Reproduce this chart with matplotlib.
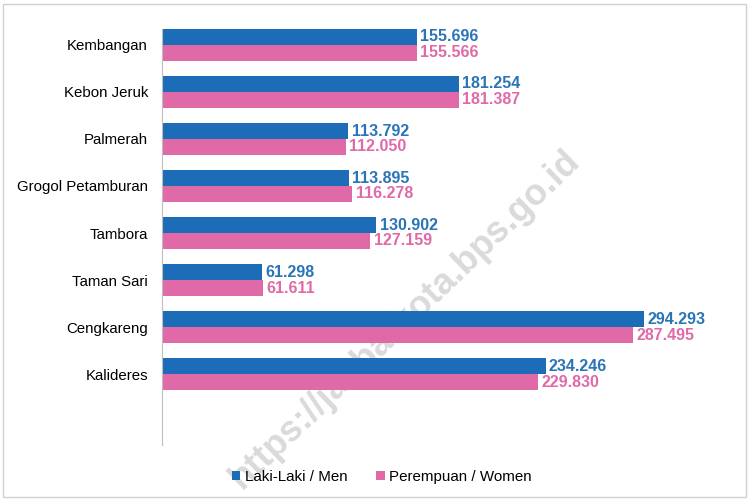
import matplotlib.pyplot as plt
from matplotlib.patches import Rectangle

plt.rcParams['font.family'] = ['Liberation Sans', 'DejaVu Sans']

# data (jumlah penduduk per kecamatan, Jakarta Barat)
kecamatan = ['Kembangan', 'Kebon Jeruk', 'Palmerah', 'Grogol Petamburan',
             'Tambora', 'Taman Sari', 'Cengkareng', 'Kalideres']
laki = [155696, 181254, 113792, 113895, 130902, 61298, 294293, 234246]
perempuan = [155566, 181387, 112050, 116278, 127159, 61611, 287495, 229830]
series_names = ['Laki-Laki / Men', 'Perempuan / Women']

blue = '#1c6cb8'
pink = '#e06aa8'
blue_txt = '#2a74b8'
pink_txt = '#e06aa8'


def fmt(v):
    return f"{v:,}".replace(',', '.')


fig = plt.figure(figsize=(7.49, 5), dpi=100)
ax = fig.add_axes([162 / 749, 1 - 445 / 500, (727 - 162) / 749, (445 - 29) / 500])
ax.patch.set_alpha(0)

# watermark
fig.text(405 / 749, 1 - 320 / 500, 'https://jakbarkota.bps.go.id', fontsize=26,
         fontweight='bold', color='#dadada', rotation=44, ha='center', va='center',
         rotation_mode='anchor', zorder=-5)

h = 0.34
ypos = list(range(len(kecamatan)))
ax.barh([y - h / 2 for y in ypos], laki, height=h, color=blue, label=series_names[0])
ax.barh([y + h / 2 for y in ypos], perempuan, height=h, color=pink, label=series_names[1])

for y, v in zip(ypos, laki):
    ax.text(v + 2000, y - h / 2, fmt(v), color=blue_txt, fontsize=11.5,
            fontweight='bold', va='center', ha='left')
for y, v in zip(ypos, perempuan):
    ax.text(v + 2000, y + h / 2, fmt(v), color=pink_txt, fontsize=11.5,
            fontweight='bold', va='center', ha='left')

ax.set_xlim(0, 345000)
ax.set_ylim(len(kecamatan) - 1 + 1.51, -0.34)
ax.set_yticks(ypos)
ax.set_yticklabels(kecamatan, fontsize=10.8)
ax.tick_params(axis='y', length=0, pad=10)
ax.set_xticks([])
for s in ['top', 'right', 'bottom']:
    ax.spines[s].set_visible(False)
ax.spines['left'].set_color('#bfbfbf')

fig.legend(loc='center', bbox_to_anchor=(382 / 749, 1 - 477 / 500), ncol=2,
           frameon=False, fontsize=10.9, handlelength=0.55, handleheight=0.55,
           handletextpad=0.3, columnspacing=1.9)

# outer border
fig.patches.append(Rectangle((3 / 749, 3 / 500), 743 / 749, 493 / 500,
                             transform=fig.transFigure, fill=False,
                             edgecolor='#d0d0d0', linewidth=1))

fig.savefig('out.png', dpi=100)
